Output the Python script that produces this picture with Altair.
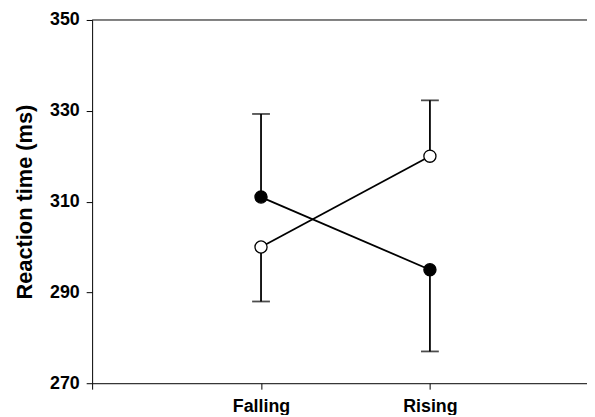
import altair as alt
import pandas as pd

conditions = ["Falling", "Rising"]
cond_x = [1, 2]
filled_mean = [311.0, 295.0]
filled_err_end = [329.3, 277.0]
open_mean = [300.0, 320.0]
open_err_end = [288.0, 332.3]
y_ticks = [270, 290, 310, 330, 350]

rows = []
for series, means, ends in [("filled", filled_mean, filled_err_end),
                            ("open", open_mean, open_err_end)]:
    for c, x, m, e in zip(conditions, cond_x, means, ends):
        rows.append(dict(series=series, cond=c, x=x, mean=m, end=e))
df = pd.DataFrame(rows)

W, H = 500, 367
XMAX = 2.93

xscale = alt.Scale(domain=[0, XMAX], nice=False, zero=False)
yscale = alt.Scale(domain=[270, 350], nice=False, zero=False)

x_enc = alt.X("x:Q", scale=xscale,
              axis=alt.Axis(values=[0, 1, 2], title=None,
                            labelExpr="datum.value == 1 ? 'Falling' : datum.value == 2 ? 'Rising' : ''",
                            labelPadding=9))
y_enc = alt.Y("mean:Q", scale=yscale,
              axis=alt.Axis(values=y_ticks, title="Reaction time (ms)", titlePadding=13,
                            labelPadding=7))

base = alt.Chart(df)

lines = base.mark_line(color="black", strokeWidth=1.8).encode(
    x=x_enc, y=y_enc, detail="series:N")

err = base.mark_rule(color="black", strokeWidth=1.8).encode(
    x="x:Q", y="mean:Q", y2="end:Q")

caps = base.mark_tick(color="black", orient="horizontal", size=18, thickness=1.8).encode(
    x="x:Q", y="end:Q")

points = base.mark_point(shape="circle", size=150, opacity=1, strokeWidth=1.3,
                         stroke="black").encode(
    x="x:Q", y="mean:Q",
    fill=alt.Fill("series:N", scale=alt.Scale(domain=["filled", "open"],
                                              range=["black", "white"]), legend=None))

top = alt.Chart(pd.DataFrame({"v": [0]})).mark_rule(color="black", strokeWidth=1).encode(
    y=alt.datum(350), x=alt.datum(0), x2=alt.datum(XMAX))

chart = alt.layer(lines, err, caps, points, top).properties(
    width=W, height=H,
    autosize=alt.AutoSizeParams(type="none"),
    padding={"left": 85, "top": 10, "right": 0, "bottom": 30},
).configure_view(stroke=None).configure_axis(
    grid=False,
    labelFont="Liberation Sans", labelFontWeight="bold", labelFontSize=18, labelColor="black",
    titleFont="Liberation Sans", titleFontWeight="bold", titleFontSize=22, titleColor="black",
    domainColor="black", tickColor="black", tickSize=6, domainWidth=1, tickWidth=1,
)

chart.save("out.html", embed_options={"renderer": "svg", "actions": False})
